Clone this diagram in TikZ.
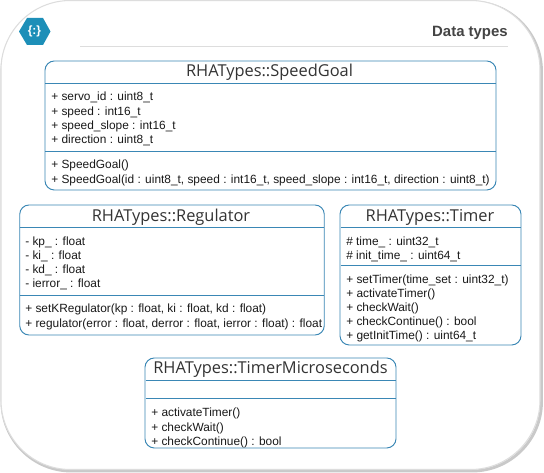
\documentclass[tikz,border=0pt]{standalone}
\usepackage{fontspec}
\setmainfont{Liberation Sans}
\newfontfamily\titlefont{Open Sans}
\usetikzlibrary{calc,positioning}

\definecolor{boxblue}{HTML}{3A87B5}
\definecolor{iconblue}{HTML}{1D8FB8}
\definecolor{framegray}{HTML}{C9C9C9}
\definecolor{ruleline}{HTML}{DDDDDD}
\definecolor{headtext}{HTML}{444444}

\tikzset{
  classbox/.style={draw=boxblue,line width=0.7pt,rounded corners=7pt,fill=white,inner sep=0pt},
  classtitle/.style={font=\titlefont\fontsize{12.3}{14}\selectfont,text=black!80,inner sep=0pt},
  classtext/.style={font=\fontsize{8.92}{10.6}\selectfont,align=left,anchor=north west,inner sep=0pt,text=black!90},
  sepline/.style={draw=boxblue,line width=0.7pt},
}

\begin{document}
\begin{tikzpicture}[x=0.75pt,y=-0.75pt]
    \useasboundingbox (0,0) rectangle (544,473);

    % outer frame
    \draw[framegray,line width=2.2pt,rounded corners=52pt] (2,2) rectangle (541.5,471);
    \draw[ruleline,line width=0.8pt,fill=white,rounded corners=52pt] (1,0.5) rectangle (540,469.5);

    % header
    \fill[iconblue] (19,31.5) -- (27,18) -- (43,18) -- (50.5,31.5) -- (43,45) -- (27,45) -- cycle;
    \node[font=\bfseries\fontsize{9}{10}\selectfont,text=white,inner sep=0pt] (icon) at (34.5,31) {\{:\}};
    \node[font=\bfseries\fontsize{11.2}{13}\selectfont,text=headtext,anchor=east,inner sep=0pt] (header) at (508,33) {Data types};
    \coordinate (H1) at (80,46.5);
    \coordinate (H2) at (508,46.5);
    \draw[ruleline,line width=0.8pt] (H1) -- (H2);

    % classes
    \node[classbox,minimum width=338.25pt,minimum height=96.75pt] (speedgoal) at (270.5,125.5) {};
    \node[classbox,minimum width=228.4pt,minimum height=97.5pt] (regulator) at (172,270) {};
    \node[classbox,minimum width=135.75pt,minimum height=105pt] (timer) at (430.5,275) {};
    \node[classbox,minimum width=188.25pt,minimum height=67.5pt] (micro) at (270.5,403) {};

    \node[classtitle] (speedgoaltitle) at (269.5,72.5) {RHATypes::SpeedGoal};
    \node[classtitle] (regulatortitle) at (171,217) {RHATypes::Regulator};
    \node[classtitle] (timertitle) at (430,217) {RHATypes::Timer};
    \node[classtitle] (microtitle) at (270.5,369.5) {RHATypes::TimerMicroseconds};

    \coordinate (S1) at (45,83.5);    \coordinate (S2) at (496,83.5);
    \coordinate (S3) at (45,151.5);   \coordinate (S4) at (496,151.5);
    \coordinate (R1) at (19.5,227.5); \coordinate (R2) at (324,227.5);
    \coordinate (R3) at (19.5,295.5); \coordinate (R4) at (324,295.5);
    \coordinate (T1) at (340.5,227.5);\coordinate (T2) at (521,227.5);
    \coordinate (T3) at (340.5,265.5);\coordinate (T4) at (521,265.5);
    \coordinate (M1) at (145.5,380.5);\coordinate (M2) at (396,380.5);
    \coordinate (M3) at (145.5,398.5);\coordinate (M4) at (396,398.5);

    \foreach \a/\b in {S1/S2,S3/S4,R1/R2,R3/R4,T1/T2,T3/T4,M1/M2,M3/M4}
      \draw[sepline] (\a) -- (\b);

    % members
    \node[classtext] (speedgoalattr) at (51,92) {+ servo\_id : uint8\_t\\+ speed : int16\_t\\+ speed\_slope : int16\_t\\+ direction : uint8\_t};
    \node[classtext] (speedgoalop) at (51,160) {+ SpeedGoal()\\+ SpeedGoal(id : uint8\_t, speed : int16\_t, speed\_slope : int16\_t, direction : uint8\_t)};
    \node[classtext] (regulatorattr) at (25,236.5) {- kp\_ : float\\- ki\_ : float\\- kd\_ : float\\- ierror\_ : float};
    \node[classtext] (regulatorop) at (25,304) {+ setKRegulator(kp : float, ki : float, kd : float)\\+ regulator(error : float, derror : float, ierror : float) : float};
    \node[classtext] (timerattr) at (346,236.5) {\# time\_ : uint32\_t\\\# init\_time\_ : uint64\_t};
    \node[classtext] (timerop) at (346,274.5) {+ setTimer(time\_set : uint32\_t)\\+ activateTimer()\\+ checkWait()\\+ checkContinue() : bool\\+ getInitTime() : uint64\_t};
    \node[classtext] (microop) at (151,408) {+ activateTimer()\\+ checkWait()\\+ checkContinue() : bool};

\end{tikzpicture}
\end{document}
